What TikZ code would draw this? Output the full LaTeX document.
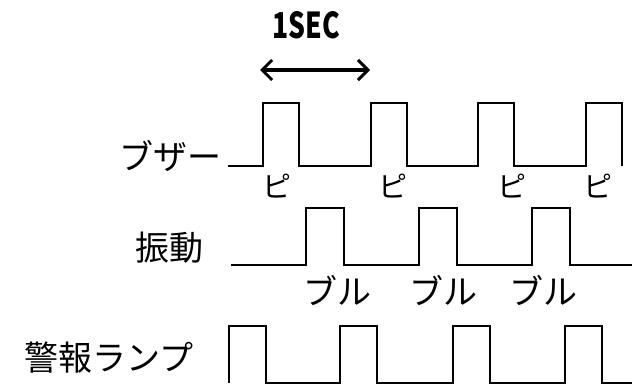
\documentclass[tikz,border=0pt]{standalone}
\usepackage{fontspec}
\setmainfont{Noto Sans CJK JP}
\usepackage{tikz}
\usetikzlibrary{arrows.meta}

\tikzset{
  big/.style={inner sep=0pt, font=\fontsize{34}{40}\selectfont},
  small/.style={inner sep=0pt, font=\fontsize{29}{34}\selectfont},
  wave/.style={line width=1.5pt, line join=miter},
  barb/.tip={Straight Barb[length=10pt,width=20pt,line width=3pt]},
}

\begin{document}
\begin{tikzpicture}[x=1pt, y=-1pt]
\useasboundingbox (0,0) rectangle (632,385);
% labels
\node[big] (sec) at (306,25) {\scalebox{0.78}[1.05]{\bfseries 1SEC}};
\node[big] (buzzer) at (170,156) {ブザー};
\node[big] (vib) at (169,248) {振動};
\node[big] (lamp) at (109,358) {警報ランプ};
% 1 second arrow
\coordinate (secL) at (260,70);
\coordinate (secR) at (370,70);
\draw[line width=3.2pt, barb-barb] (secL) -- (secR);
\draw[line width=3.2pt] ([xshift=6pt]secL) -- ([xshift=-6pt]secR);
% buzzer
\draw[wave] (228,166)
  \foreach \x in {263,371,478,586} {-- (\x,166) -- (\x,103) -- (\x+36,103) -- (\x+36,166)};
\foreach \x [count=\i] in {277,393,512,598}
    \node[small] (pi\i) at (\x,186) {ピ};
% vibration
\draw[wave] (231,265)
  \foreach \x in {306,419,532} {-- (\x,265) -- (\x,208) -- (\x+38,208) -- (\x+38,265)} -- (632,265);
\foreach \x [count=\i] in {337,443,543}
    \node[big] (bul\i) at (\x,291) {ブル};
% lamp
\draw[wave] (229,383)
  \foreach \x in {229,340,453,565} {-- (\x,383) -- (\x,326) -- (\x+37,326) -- (\x+37,383)} -- (632,383);
\end{tikzpicture}
\end{document}
